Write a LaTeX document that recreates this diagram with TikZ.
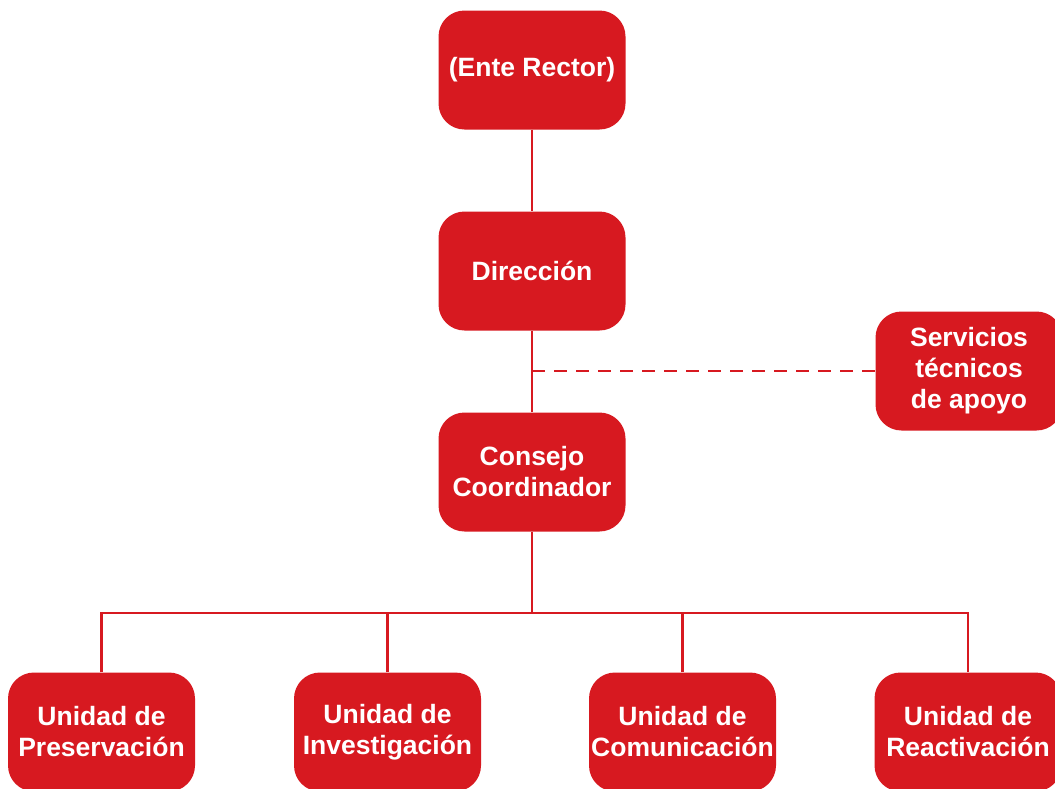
\documentclass[tikz,border=0pt]{standalone}
\usepackage{fontspec}
\setmainfont{Liberation Sans}
\definecolor{orgred}{HTML}{D71920}
\begin{document}
\begin{tikzpicture}[x=1pt,y=-1pt,
  box/.style={draw=none,fill=orgred,rounded corners=26pt,minimum width=187pt,minimum height=119pt,
    text=white,font=\fontsize{26.5}{31}\selectfont\bfseries,align=center,inner sep=0pt,anchor=center},
  link/.style={draw=orgred,line width=2.5pt}]
\clip (0,0) rectangle (1055,788);
\useasboundingbox (0,0) rectangle (1055,788);
\node[box] (ente) at (532,70) {(Ente Rector)};
\node[box] (dir) at (532,271) {Dirección};
\node[box] (cons) at (532,472) {Consejo\\Coordinador};
\node[box] (serv) at (969,371) {Servicios\\técnicos\\de apoyo};
\node[box] (u1) at (101.5,732) {Unidad de\\Preservación};
\node[box] (u2) at (387.5,732) {Unidad de\\Investigación};
\node[box] (u3) at (682.5,732) {Unidad de\\Comunicación};
\node[box] (u4) at (968,732) {Unidad de\\Reactivación};
\coordinate (bus) at (532,613);
\coordinate (dj) at (532,371);
\draw[link] (ente) -- (dir);
\draw[link] (dir) -- (cons);
\draw[link,dash pattern=on 13pt off 9pt] (dj) -- (serv.west);
\draw[link] (cons) -- (bus);
\draw[link] (u1.north) |- (bus) -| (u4.north);
\draw[link] (u2.north) -- (u2.north |- bus);
\draw[link] (u3.north) -- (u3.north |- bus);
\end{tikzpicture}
\end{document}
